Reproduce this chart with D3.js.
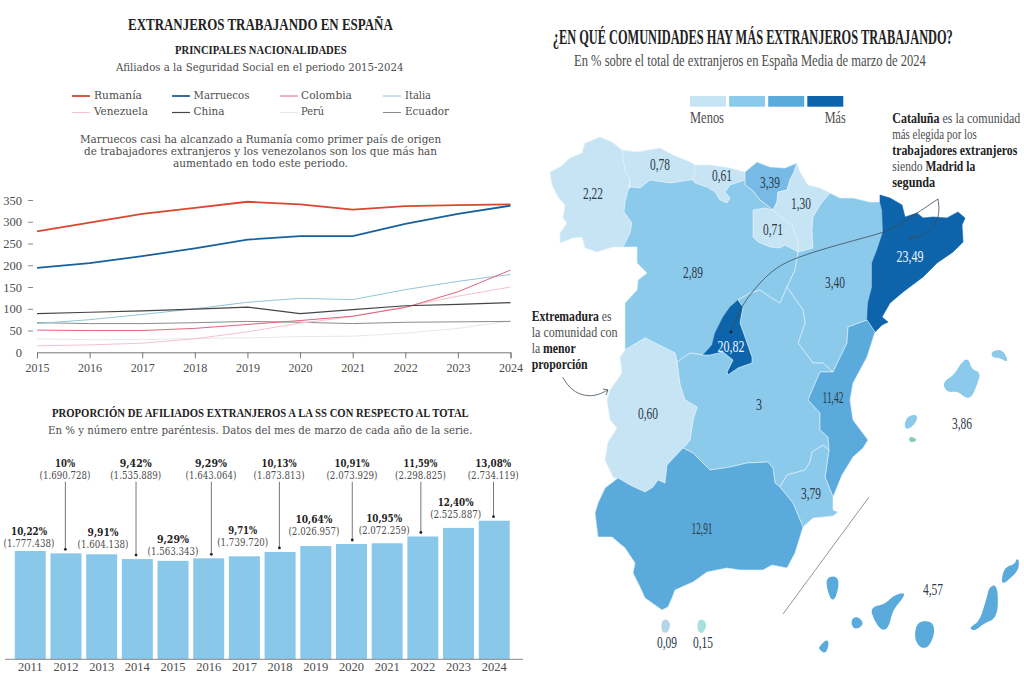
<!DOCTYPE html>
<html>
<head>
<meta charset="utf-8">
<script src="https://cdn.jsdelivr.net/npm/d3@7"></script>
<style>
  body { margin: 0; background: #fff; }
  text { font-family: "Liberation Serif", serif; }
</style>
</head>
<body>
<div id="G"></div>
<script>
// Line chart data (thousands of affiliates)
const years = [2015, 2016, 2017, 2018, 2019, 2020, 2021, 2022, 2023, 2024];
const rumania = [278, 298, 318, 332, 346, 340, 328, 336, 338, 340];
const marruecos = [194, 205, 221, 239, 259, 267, 267, 295, 318, 337];
const colombia = [51, 50, 50, 55, 64, 73, 83, 103, 139, 189];
const italia = [66, 75, 87, 100, 115, 124, 121, 144, 163, 179];
const venezuela = [15, 17, 21, 31, 47, 67, 82, 105, 129, 150];
const china = [89, 92, 95, 99, 104, 89, 98, 107, 110, 114];
const peru = [31, 29, 29, 32, 33, 36, 37, 44, 55, 72];
const ecuador = [68, 66, 66, 68, 71, 69, 66, 69, 70, 71];
const yTicks = [0, 50, 100, 150, 200, 250, 300, 350];

// Bar chart data, bar heights
const barYears = [2011, 2012, 2013, 2014, 2015, 2016, 2017, 2018, 2019, 2020, 2021, 2022, 2023, 2024];
const barPct = [10.22, 10, 9.91, 9.46, 9.29, 9.53, 9.72, 10.13, 10.69, 10.88, 10.95, 11.59, 12.40, 13.08];
const barPctText = ["10,22%", "10%", "9,91%", "9,42%", "9,29%", "9,29%", "9,71%", "10,13%", "10,64%", "10,91%", "10,95%", "11,59%", "12,40%", "13,08%"];
const barCount = ["1.777.438", "1.690.728", "1.604.138", "1.535.889", "1.563.343", "1.643.064", "1.739.720", "1.873.813", "2.026.957", "2.073.929", "2.072.259", "2.298.825", "2.525.887", "2.734.119"];

// Map data
const comunidades = ["Galicia", "Asturias", "Cantabria", "País Vasco", "Navarra", "La Rioja", "Castilla y León", "Aragón", "Cataluña", "Madrid", "Castilla-La Mancha", "Extremadura", "C. Valenciana", "Murcia", "Andalucía", "Baleares", "Canarias", "Ceuta", "Melilla"];
const porcentajes = ["2,22", "0,78", "0,61", "3,39", "1,30", "0,71", "2,89", "3,40", "23,49", "20,82", "3", "0,60", "11,42", "3,79", "12,91", "3,86", "4,57", "0,09", "0,15"];

// Outlines, in map units
const contornos = {
  "Galicia": [[[70,7],[55,13],[52,23],[40,28],[30,37],[20,42],[22,55],[28,67],[35,75],[33,88],[37,93],[30,103],[30,113],[43,108],[52,107],[55,118],[67,122],[83,117],[93,117],[100,103],[102,93],[94,82],[95,72],[98,60],[100,50],[95,40],[92,20],[82,12]]],
  "Asturias": [[[92,20],[107,22],[130,18],[143,25],[160,32],[165,35],[165,43],[163,50],[160,50],[140,53],[120,50],[110,58],[100,57],[100,50],[95,40]]],
  "Cantabria": [[[165,35],[180,35],[200,38],[215,42],[215,50],[200,55],[195,62],[200,68],[197,73],[190,70],[185,62],[177,57],[165,53],[163,50],[165,43]]],
  "País Vasco": [[[215,42],[227,32],[240,37],[255,38],[267,33],[264,42],[260,50],[257,60],[248,62],[247,72],[243,80],[230,70],[222,60],[215,55],[215,50]]],
  "Navarra": [[[267,33],[270,42],[278,55],[290,58],[300,63],[290,75],[283,87],[282,100],[283,118],[268,122],[268,112],[262,95],[248,85],[243,80],[247,72],[248,62],[257,60],[260,50],[264,42]]],
  "La Rioja": [[[223,80],[235,78],[243,80],[248,85],[262,95],[268,112],[268,122],[255,115],[250,118],[240,117],[228,112],[223,107]]],
  "Castilla y León": [[[100,57],[110,58],[120,50],[140,53],[160,50],[163,50],[165,53],[177,57],[185,62],[190,70],[197,73],[200,68],[195,62],[200,55],[215,50],[215,55],[222,60],[230,70],[243,80],[235,78],[223,80],[223,107],[228,112],[240,117],[250,118],[255,115],[268,122],[265,140],[257,157],[250,173],[240,167],[230,160],[220,163],[208,170],[200,177],[193,187],[185,203],[182,215],[173,225],[160,223],[147,232],[145,223],[133,217],[115,208],[95,220],[95,173],[107,160],[108,150],[117,143],[107,133],[107,117],[93,117],[100,103],[102,93],[94,82],[95,72],[98,60]]],
  "Aragón": [[[300,63],[310,68],[323,68],[340,72],[350,72],[352,80],[353,102],[347,120],[342,133],[342,157],[338,173],[337,190],[318,197],[317,213],[303,242],[293,233],[283,233],[268,213],[275,193],[273,180],[257,157],[265,140],[268,122],[283,118],[282,100],[283,87],[290,75]]],
  "Cataluña": [[[350,65],[360,68],[372,75],[375,87],[387,83],[393,88],[403,87],[417,88],[428,82],[435,88],[432,95],[433,112],[423,122],[407,133],[393,147],[373,162],[360,173],[352,187],[358,192],[352,195],[345,202],[337,190],[338,173],[342,157],[342,133],[347,120],[353,102],[352,80],[350,72]]],
  "Madrid": [[[208,170],[213,177],[210,193],[215,207],[222,227],[222,233],[208,238],[198,245],[197,242],[203,230],[193,222],[180,225],[173,225],[182,215],[185,203],[193,187],[200,177]]],
  "Castilla-La Mancha": [[[147,232],[160,223],[173,225],[180,225],[193,222],[203,230],[197,242],[198,245],[208,238],[222,233],[222,227],[215,207],[210,193],[213,177],[208,170],[220,163],[230,160],[240,167],[250,173],[257,157],[273,180],[275,193],[268,213],[283,233],[293,233],[303,242],[290,242],[280,265],[278,270],[290,283],[290,300],[298,307],[299,320],[293,315],[282,322],[280,332],[275,340],[257,345],[250,357],[245,353],[243,338],[238,332],[217,333],[200,337],[180,340],[163,323],[153,318],[160,310],[163,290],[167,277],[155,270],[150,255]]],
  "Extremadura": [[[115,208],[95,220],[90,227],[92,243],[80,260],[77,270],[80,290],[87,298],[78,312],[75,330],[83,347],[100,355],[115,362],[123,357],[128,350],[135,353],[137,335],[153,318],[160,310],[163,290],[167,277],[155,270],[150,255],[147,232],[145,223],[133,217]]],
  "C. Valenciana": [[[337,190],[345,202],[337,227],[323,253],[320,270],[323,290],[338,310],[333,318],[323,327],[312,345],[303,367],[295,347],[299,320],[298,307],[290,300],[290,283],[278,270],[280,265],[290,242],[303,242],[317,213],[318,197]]],
  "Murcia": [[[299,320],[295,347],[303,367],[303,380],[308,382],[303,386],[283,388],[273,397],[263,373],[250,357],[257,345],[275,340],[280,332],[282,322],[293,315]]],
  "Andalucía": [[[88,348],[75,358],[68,373],[65,383],[68,407],[82,407],[95,418],[105,433],[103,443],[110,457],[115,468],[132,480],[138,477],[142,468],[145,460],[163,452],[177,442],[197,438],[210,440],[233,440],[242,435],[257,438],[265,423],[273,397],[263,373],[250,357],[245,353],[243,338],[238,332],[217,333],[200,337],[180,340],[163,323],[153,318],[137,335],[135,353],[128,350],[123,357],[115,362],[100,355]]],
  "Baleares": [
    [[438,229],[432,233],[425,245],[413,253],[418,262],[427,260],[437,268],[442,265],[446,255],[450,243],[441,240]],
    [[462,222],[472,220],[478,232],[470,227],[463,227]],
    [[375,295],[378,287],[387,285],[385,293],[377,299]]
  ],
  "Canarias": [
    [[297,448],[307,447],[308,457],[303,472],[298,460]],
    [[322,490],[327,487],[333,493],[328,498],[323,497]],
    [[290,517],[297,510],[298,515],[295,523],[290,519]],
    [[341,478],[355,475],[363,467],[374,463],[372,468],[362,480],[358,497],[352,500],[345,490]],
    [[388,492],[402,492],[404,503],[398,517],[390,517],[385,507]],
    [[460,457],[467,456],[467,487],[453,493],[445,500],[440,498],[450,492],[457,470]],
    [[488,428],[488,440],[475,452],[472,452],[475,438],[485,435]]
  ],
  "Ceuta": [[[133,491],[137,490],[140,495],[137,502],[133,502],[132,496]]],
  "Melilla": [[[169,491],[173,490],[176,495],[173,502],[169,502],[168,496]]]
};
const formentera = [[380,307],[387,310],[380,312]];

// ------ layout and styles ------
const width = 1024, height = 683;
const C1 = "#c6e4f4", C2 = "#8ccaec", C3 = "#5aaadc", C4 = "#0d64ab";
const ink = "#222", grey = "#4d4d4d";
const WIDE = "DejaVu Serif";

const svg = d3.select("#G").append("svg")
  .attr("width", width).attr("height", height)
  .style("display", "block");

// text whose width is forced to match the picture
function label(g, x, y, parts, size, w, anchor, fill, weight, font) {
  const t = g.append("text")
    .attr("font-size", size)
    .attr("dy", "0.34em")
    .attr("fill", fill || grey)
    .attr("font-weight", weight || "normal");
  if (font) t.style("font-family", font);
  (Array.isArray(parts) ? parts : [[parts, weight]]).forEach(function (p) {
    t.append("tspan").attr("font-weight", p[1] || "normal").attr("fill", p[2] || null).text(p[0]);
  });
  const len = t.node().getComputedTextLength();
  const sx = w ? w / len : 1;
  const ox = anchor == "middle" ? -len / 2 : anchor == "end" ? -len : 0;
  t.attr("transform", "translate(" + x + "," + y + ") scale(" + sx + ",1) translate(" + ox + ",0)");
  return t;
}

// ------ left headers ------
const head = svg.append("g");
label(head, 260.5, 24.5, "EXTRANJEROS TRABAJANDO EN ESPAÑA", 16.5, 265, "middle", ink, "bold");
label(head, 261, 50, "PRINCIPALES NACIONALIDADES", 13, 172, "middle", ink, "bold");
label(head, 260, 67.5, "Afiliados a la Seguridad Social en el periodo 2015-2024", 11.5, 288, "middle", grey, "normal", WIDE);
label(head, 260.5, 140, "Marruecos casi ha alcanzado a Rumanía como primer país de origen", 10.2, 361, "middle", grey, "normal", WIDE);
label(head, 260.5, 152, "de trabajadores extranjeros y los venezolanos son los que más han", 10.2, 353, "middle", grey, "normal", WIDE);
label(head, 260.5, 164, "aumentado en todo este periodo.", 10.2, 175, "middle", grey, "normal", WIDE);

// ------ line chart ------
const series = [
  { name: "Perú", values: peru, color: "#ebe6e6", w: 1 },
  { name: "Ecuador", values: ecuador, color: "#8c8c8c", w: 1 },
  { name: "Venezuela", values: venezuela, color: "#f4c3cb", w: 1 },
  { name: "Italia", values: italia, color: "#8fc6d9", w: 1 },
  { name: "Colombia", values: colombia, color: "#e2637f", w: 1 },
  { name: "China", values: china, color: "#454545", w: 1.2 },
  { name: "Rumanía", values: rumania, color: "#d9472f", w: 1.8 },
  { name: "Marruecos", values: marruecos, color: "#17609b", w: 1.8 }
];
const legendOrder = ["Rumanía", "Marruecos", "Colombia", "Italia", "Venezuela", "China", "Perú", "Ecuador"];
const legendLine = [72, 172, 280, 383];
const legendText = [94, 193.5, 301, 405];
const legendTextW = [48, 56, 51, 26, 54, 31, 23, 44];

const legend = svg.append("g");
legendOrder.forEach(function (name, i) {
  const s = series.find(d => d.name == name);
  const col = i % 4, yy = i < 4 ? 96 : 112.5;
  legend.append("line")
    .attr("x1", legendLine[col]).attr("x2", legendLine[col] + 18)
    .attr("y1", yy).attr("y2", yy)
    .attr("stroke", s.color).attr("stroke-width", s.w);
  label(legend, legendText[col], yy - 1, name, 11.5, legendTextW[i], "start", grey, "normal", WIDE);
});

const x = d3.scaleLinear().domain([2015, 2024]).range([37, 510.5]);
const y = d3.scaleLinear().domain([0, 350]).range([352.3, 200]);

const xAxis = svg.append("g")
  .attr("transform", "translate(0,352.3)")
  .call(d3.axisBottom(x).tickValues(years).tickFormat(d3.format("d")).tickSize(6).tickPadding(5));
xAxis.select(".domain").attr("stroke", "#777");
xAxis.selectAll("line").attr("stroke", "#777");
xAxis.selectAll("text").attr("font-size", 12).attr("fill", grey).attr("font-family", "Liberation Serif");

const yAxis = svg.append("g")
  .attr("transform", "translate(33,0)")
  .call(d3.axisLeft(y).tickValues(yTicks).tickSize(5).tickPadding(6));
yAxis.select(".domain").remove();
yAxis.selectAll("line").attr("stroke", "#888");
yAxis.selectAll(".tick").filter(d => d == 0).select("line").remove();
yAxis.selectAll("text").attr("font-size", 12.5).attr("fill", grey).attr("font-family", "Liberation Serif");

const line = d3.line().x((d, i) => x(years[i])).y(d => y(d));
svg.append("g").selectAll("path").data(series).join("path")
  .attr("fill", "none")
  .attr("stroke", d => d.color)
  .attr("stroke-width", d => d.w)
  .attr("d", d => line(d.values));

// ------ bar chart ------
label(head, 260.5, 413, "PROPORCIÓN DE AFILIADOS EXTRANJEROS A LA SS CON RESPECTO AL TOTAL", 12.5, 417, "middle", ink, "bold");
label(head, 260.5, 430.7, "En % y número entre paréntesis. Datos del mes de marzo de cada año de la serie.", 11, 425, "middle", grey, "normal", WIDE);

const bx = d3.scaleBand().domain(barYears).range([13, 511.5]).paddingInner(0.132).paddingOuter(0.05);
const by = d3.scaleLinear().domain([0, 13.08]).range([659.3, 520.7]);

svg.append("g").selectAll("rect").data(barYears).join("rect")
  .attr("x", d => bx(d))
  .attr("y", (d, i) => by(barPct[i]))
  .attr("width", bx.bandwidth())
  .attr("height", (d, i) => by(0) - by(barPct[i]))
  .attr("fill", "#8ac8ea");

const bAxis = svg.append("g")
  .attr("transform", "translate(0,659.3)")
  .call(d3.axisBottom(bx).tickSize(0).tickPadding(3));
bAxis.select(".domain").attr("stroke", "#888").attr("d", "M5,0H523");
bAxis.selectAll("text").attr("font-size", 12.5).attr("fill", grey).attr("font-family", "Liberation Serif");

// label placement: distance above the bar for low labels, dx from the bar centre
const topRow = new Set([2012, 2014, 2016, 2018, 2020, 2022, 2024]);
const labelRaise = { 2011: 20, 2013: 21.7, 2015: 21.7, 2017: 26.3, 2019: 26.7, 2021: 25, 2023: 25.7 };
const labelDx = [-1.2, -0.9, 1.4, -1.6, 0, 2.3, -1.7, -1, -1.8, 0.5, -3, -2.3, -2.9, -1];
const pctW = [36, 20, 31, 32, 32, 32, 29, 35, 37, 35, 36, 34, 36, 36];
const barLabels = svg.append("g");
barYears.forEach(function (yr, i) {
  const cx = bx(yr) + bx.bandwidth() / 2 + labelDx[i];
  const topY = by(barPct[i]);
  const py = topRow.has(yr) ? 463.3 : topY - labelRaise[yr];
  label(barLabels, cx, py, barPctText[i], 10.5, pctW[i], "middle", ink, "bold", WIDE);
  label(barLabels, cx, py + 12.3, "(" + barCount[i] + ")", 10.5, 51, "middle", grey, "normal", WIDE);
  if (topRow.has(yr)) {
    barLabels.append("line")
      .attr("x1", cx + 0.3).attr("x2", cx + 0.3)
      .attr("y1", 481.7).attr("y2", topY - 4)
      .attr("stroke", "#555").attr("stroke-width", 0.8);
    barLabels.append("circle")
      .attr("cx", cx + 0.3).attr("cy", topY - 4).attr("r", 1.4).attr("fill", "#222");
  }
});

// ------ map ------
label(head, 753, 37, "¿EN QUÉ COMUNIDADES HAY MÁS EXTRANJEROS TRABAJANDO?", 20.5, 400.5, "middle", ink, "bold");
label(head, 750, 61, "En % sobre el total de extranjeros en España Media de marzo de 2024", 16, 352, "middle");

const tierColor = {
  "Galicia": C1, "Asturias": C1, "Cantabria": C1, "País Vasco": "#78bae6", "Navarra": C1, "La Rioja": C1,
  "Castilla y León": C2, "Aragón": C2, "Cataluña": C4, "Madrid": C4, "Castilla-La Mancha": C2,
  "Extremadura": C1, "C. Valenciana": C3, "Murcia": C2, "Andalucía": C3, "Baleares": C2,
  "Canarias": C3, "Ceuta": "#b7d3e8", "Melilla": "#a9e0e0", "Formentera": "#86cdb6"
};
const islas = ["Baleares", "Canarias", "Ceuta", "Melilla", "Formentera"];
const valuePos = {
  "Galicia": [63, 63], "Asturias": [130, 34], "Cantabria": [192, 45], "País Vasco": [240, 52], "Navarra": [271, 73],
  "La Rioja": [243, 99], "Castilla y León": [163, 142], "Aragón": [305, 152], "Cataluña": [380, 126],
  "Madrid": [201, 216], "Castilla-La Mancha": [229, 274], "Extremadura": [118, 283], "C. Valenciana": [303, 267],
  "Murcia": [281, 363], "Andalucía": [172, 398], "Baleares": [432, 293], "Canarias": [403, 459],
  "Ceuta": [137, 512], "Melilla": [173, 512]
};
const valueW = { "3": 6, "23,49": 27, "20,82": 27, "11,42": 21, "12,91": 21 };

// corner cutting for the islands, the peninsula keeps its shared borders as traced
function smooth(ring, n) {
  let r = ring;
  for (let k = 0; k < n; k++) {
    r = r.flatMap(function (p, i) {
      const q = r[(i + 1) % r.length];
      return [[0.75 * p[0] + 0.25 * q[0], 0.75 * p[1] + 0.25 * q[1]], [0.25 * p[0] + 0.75 * q[0], 0.25 * p[1] + 0.75 * q[1]]];
    });
  }
  return r.concat([r[0]]);
}
function feature(name, rings) {
  return {
    type: "Feature",
    properties: { name: name },
    geometry: { type: "MultiPolygon", coordinates: rings.map(r => [smooth(r, islas.includes(name) ? 2 : 0)]) }
  };
}
const geo = comunidades.map(name => feature(name, contornos[name])).concat([feature("Formentera", [formentera])]);
const path = d3.geoPath(d3.geoIdentity().translate([530, 130]));

svg.append("g").selectAll("path").data(geo).join("path")
  .attr("d", path)
  .attr("fill", d => tierColor[d.properties.name])
  .attr("stroke", function (d) {
    const n = d.properties.name;
    return (n == "Cataluña" || n == "Madrid" || islas.includes(n)) ? tierColor[n] : "#e4f2fa";
  })
  .attr("stroke-width", d => islas.includes(d.properties.name) ? 1.6 : 0.6)
  .attr("stroke-linejoin", "round");

// separator between peninsula and the Canary Islands
svg.append("path")
  .attr("d", d3.line()([[869, 497], [783, 614]]))
  .attr("stroke", "#888").attr("fill", "none").attr("stroke-width", 0.9);

// scale legend
const swatchColors = [C1, C2, C3, C4];
svg.append("g").selectAll("rect").data(swatchColors).join("rect")
  .attr("x", (d, i) => 690 + i * 39.1)
  .attr("y", 96).attr("width", 36).attr("height", 10.7)
  .attr("fill", d => d);
const mapText = svg.append("g");
label(mapText, 690, 118, "Menos", 16, 34, "start");
label(mapText, 845.7, 118, "Más", 16, 21, "end");

// annotations
const bold = (s) => [s, "bold", ink];
const plain = (s) => [s, "normal", grey];
[
  [118, [bold("Cataluña"), plain(" es la comunidad")], 128],
  [134.5, [plain("más elegida por los")], 84.5],
  [150.7, [bold("trabajadores extranjeros")], 125],
  [166.7, [plain("siendo "), bold("Madrid la")], 83],
  [182.7, [bold("segunda")], 43]
].forEach(d => label(mapText, 892.3, d[0], d[1], 13.8, d[2], "start"));
[
  [316.7, [bold("Extremadura"), plain(" es")], 80],
  [332.7, [plain("la comunidad con")], 86],
  [348.5, [plain("la "), bold("menor")], 44],
  [364.5, [bold("proporción")], 56]
].forEach(d => label(mapText, 531.7, d[0], d[1], 13.8, d[2], "start"));

// leader lines
const curve = d3.line().curve(d3.curveBasis);
const leaders = svg.append("g").attr("fill", "none").attr("stroke", "#3d4a57").attr("stroke-width", 0.8);
leaders.append("path").attr("d", curve([[938, 199], [895, 228], [882, 233], [837, 245], [797, 257], [770, 270], [743, 303], [737, 317], [731, 332]]));
leaders.append("path").attr("d", curve([[938, 199], [940, 215], [933, 227], [922, 236], [910, 239]]));
leaders.append("path").attr("d", "M913,236L909,239L913,242");
leaders.append("path").attr("d", curve([[562.7, 377.3], [572, 392], [592, 398], [608, 390]]));
leaders.append("path").attr("d", "M603,389L608,390L606,395");
svg.append("circle").attr("cx", 731).attr("cy", 332).attr("r", 1.4).attr("fill", "#123");

// value labels
comunidades.forEach(function (name, i) {
  const p = valuePos[name];
  const dark = name == "Cataluña" || name == "Madrid";
  const w = valueW[porcentajes[i]] || (porcentajes[i].length == 5 ? 22 : 20);
  label(mapText, p[0] + 530, p[1] + 130, porcentajes[i], 16.5, w, "middle", dark ? "#eef6fc" : "#2c3a47");
});
</script>
</body>
</html>
